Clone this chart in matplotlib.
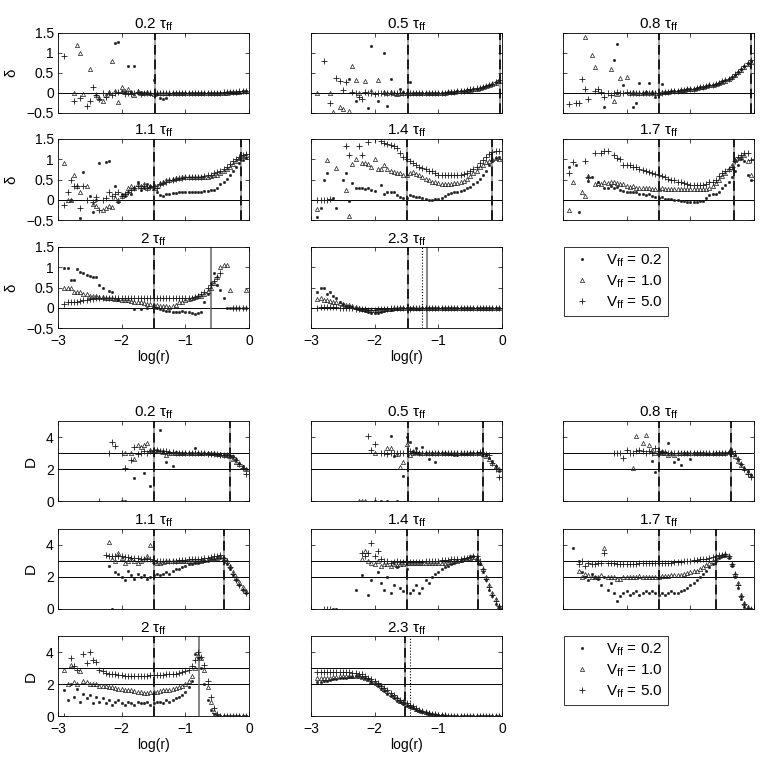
import numpy as np
import matplotlib
matplotlib.use("Agg")
import matplotlib.pyplot as plt
from matplotlib.lines import Line2D

plt.rcParams['font.family'] = ['Liberation Sans', 'DejaVu Sans']
plt.rcParams['mathtext.fontset'] = 'custom'
plt.rcParams['mathtext.rm'] = 'Liberation Sans'
plt.rcParams['mathtext.it'] = 'Liberation Sans:italic'

n = np.nan

# log(r) sample points shared by all series
LOGR = [-2.90, -2.85, -2.80, -2.75, -2.70, -2.65, -2.60, -2.55, -2.50, -2.45,
        -2.40, -2.35, -2.30, -2.25, -2.20, -2.15, -2.10, -2.05, -2.00, -1.95,
        -1.90, -1.85, -1.80, -1.75, -1.70, -1.65, -1.60, -1.55, -1.50, -1.45,
        -1.40, -1.35, -1.30, -1.25, -1.20, -1.15, -1.10, -1.05, -1.00, -0.95,
        -0.90, -0.85, -0.80, -0.75, -0.70, -0.65, -0.60, -0.55, -0.50, -0.45,
        -0.40, -0.35, -0.30, -0.25, -0.20, -0.15, -0.10, -0.05]

TIMES = ['0.2', '0.5', '0.8', '1.1', '1.4', '1.7', '2', '2.3']
VFF = ['0.2', '1.0', '5.0']

# ---- delta, suffix a/b/c = V_ff 0.2 / 1.0 / 5.0 ----
delta_02_a = [n, n, n, n, n, n, n, n, n, n,
              n, n, n, n, n, n, 1.25, 1.28, 0.05, 0.02,
              0.68, 0.03, 0.68, 0.0, 0.02, 0.0, 0.01, -0.03, 0.32, -0.02,
              -0.12, -0.15, -0.12, -0.02, 0.0, -0.01, 0.0, 0.0, 0.0, 0.0,
              0.0, 0.0, 0.0, 0.0, 0.0, 0.0, 0.01, 0.0, 0.01, 0.01,
              0.01, 0.02, 0.02, 0.02, 0.03, 0.03, 0.04, 0.05]
delta_02_b = [n, n, n, 0.0, 1.2, 1.0, -0.02, n, 0.6, n,
              -0.05, -0.12, -0.2, -0.05, 0.03, 0.8, 0.05, -0.22, 0.15, 0.05,
              0.1, 0.02, -0.05, 0.06, 0.0, 0.0, 0.02, 0.0, -0.02, 0.0,
              0.0, 0.01, 0.0, 0.0, 0.0, 0.0, 0.0, 0.0, 0.0, 0.0,
              0.0, 0.0, 0.0, 0.0, 0.0, 0.0, 0.0, 0.01, 0.01, 0.01,
              0.01, 0.01, 0.02, 0.02, 0.03, 0.03, 0.04, 0.04]
delta_02_c = [0.92, n, n, -0.2, n, -0.13, n, -0.33, -0.2, 0.15,
              -0.05, -0.15, 0.0, -0.1, 0.0, -0.05, 0.0, 0.02, n, -0.02,
              0.0, -0.03, 0.0, 0.02, -0.02, 0.0, 0.0, 0.0, 0.0, 0.0,
              0.0, 0.0, 0.0, 0.0, 0.0, 0.0, 0.0, 0.0, 0.0, 0.0,
              0.0, 0.0, 0.0, 0.0, 0.0, 0.0, 0.01, 0.01, 0.01, 0.01,
              0.02, 0.02, 0.02, 0.03, 0.03, 0.04, 0.05, 0.06]

delta_05_a = [n, n, n, n, n, n, n, n, n, n,
              0.35, n, -0.2, n, n, n, -0.38, 1.18, n, -0.2,
              n, 1.0, -0.33, 0.35, n, n, 0.1, 0.02, 0.0, 0.28,
              0.0, 0.0, 0.0, 0.0, 0.0, 0.0, 0.0, 0.0, 0.0, 0.01,
              0.01, 0.02, 0.02, 0.03, 0.04, 0.05, 0.06, 0.07, 0.08, 0.1,
              0.11, 0.13, 0.15, 0.17, 0.2, 0.23, 0.27, 0.32]
delta_05_b = [0.0, n, n, n, 0.0, -0.47, n, -0.35, -0.4, n,
              -0.45, 0.68, 0.33, 0.0, n, 0.3, n, 0.05, n, 0.33,
              n, 0.02, 0.0, 0.02, 0.0, -0.02, 0.0, 0.0, 0.0, 0.0,
              0.0, 0.0, 0.0, 0.0, 0.0, 0.0, 0.0, 0.01, 0.01, 0.01,
              0.01, 0.02, 0.02, 0.03, 0.04, 0.05, 0.06, 0.07, 0.08, 0.1,
              0.11, 0.13, 0.15, 0.17, 0.19, 0.22, 0.26, 0.3]
delta_05_c = [n, n, 0.8, n, -0.25, n, 0.38, 0.3, 0.07, 0.27,
              n, 0.02, 0.0, -0.1, -0.15, 0.02, 0.0, 0.0, -0.02, 0.0,
              0.0, 0.0, 0.0, 0.0, 0.0, 0.0, 0.0, 0.0, 0.0, 0.0,
              0.0, 0.0, 0.0, 0.0, 0.0, 0.0, 0.0, 0.0, 0.01, 0.01,
              0.01, 0.02, 0.02, 0.03, 0.04, 0.05, 0.06, 0.07, 0.09, 0.1,
              0.12, 0.13, 0.15, 0.17, 0.2, 0.23, 0.27, 0.32]

delta_08_a = [n, n, n, n, n, n, n, n, n, n,
              n, -0.35, n, n, 0.83, 1.22, n, 0.2, n, n,
              -0.35, -0.25, 0.25, 0.0, 0.02, 0.25, 0.0, -0.1, 0.0, 0.22,
              0.02, 0.03, 0.04, 0.05, 0.06, 0.07, 0.08, 0.09, 0.1, 0.11,
              0.13, 0.14, 0.16, 0.17, 0.19, 0.21, 0.23, 0.26, 0.29, 0.32,
              0.36, 0.41, 0.46, 0.52, 0.6, 0.67, 0.74, 0.8]
delta_08_b = [n, n, n, n, n, 1.4, n, 0.95, 0.65, n,
              n, n, n, 0.6, -0.2, -0.02, 0.38, n, 0.4, 0.0,
              0.02, 0.0, 0.01, 0.0, 0.02, 0.0, 0.02, 0.0, 0.0, 0.02,
              0.02, 0.03, 0.04, 0.05, 0.06, 0.07, 0.08, 0.09, 0.1, 0.11,
              0.12, 0.14, 0.15, 0.17, 0.19, 0.21, 0.23, 0.25, 0.28, 0.31,
              0.35, 0.4, 0.46, 0.52, 0.58, 0.65, 0.72, 0.78]
delta_08_c = [-0.27, n, -0.25, -0.25, 0.35, 0.1, -0.15, n, 0.05, 0.1,
              0.02, -0.1, 0.0, -0.05, 0.0, 0.02, 0.0, 0.0, 0.02, 0.0,
              0.0, 0.01, 0.0, 0.01, 0.0, 0.01, 0.0, 0.0, 0.0, 0.01,
              0.02, 0.03, 0.04, 0.05, 0.06, 0.07, 0.08, 0.09, 0.1, 0.11,
              0.13, 0.14, 0.16, 0.17, 0.19, 0.21, 0.23, 0.26, 0.29, 0.32,
              0.36, 0.41, 0.47, 0.53, 0.6, 0.68, 0.75, 0.82]

delta_11_a = [n, n, 0.0, n, n, -0.45, 0.69, n, 0.1, -0.3,
              0.0, 0.9, n, 0.93, 0.96, n, 0.34, -0.05, 0.15, 0.1,
              0.2, 0.15, 0.3, 0.45, 0.25, 0.3, 0.4, 0.35, 0.36, 0.2,
              0.12, 0.1, 0.14, 0.15, 0.16, 0.17, 0.18, 0.18, 0.19, 0.19,
              0.19, 0.19, 0.2, 0.2, 0.21, 0.21, 0.23, 0.25, 0.3, 0.38,
              0.45, 0.52, 0.6, 0.7, 0.8, 0.9, 0.98, 1.02]
delta_11_b = [0.9, 0.0, 0.0, 0.6, 0.35, 0.2, n, 0.33, n, -0.1,
              -0.15, n, -0.25, -0.2, -0.15, -0.18, 0.05, 0.0, 0.1, 0.15,
              0.3, 0.35, 0.3, 0.4, 0.35, 0.4, 0.3, 0.35, 0.3, 0.35,
              0.42, 0.45, 0.48, 0.5, 0.52, 0.53, 0.54, 0.55, 0.55, 0.55,
              0.55, 0.55, 0.55, 0.55, 0.56, 0.57, 0.58, 0.6, 0.62, 0.66,
              0.7, 0.76, 0.82, 0.88, 0.95, 1.02, 1.08, 1.1]
delta_11_c = [-0.13, 0.2, 0.5, 0.35, 0.35, -0.2, 0.35, 0.0, n, -0.05,
              0.08, -0.25, 0.0, 0.05, 0.2, 0.1, 0.15, 0.2, 0.1, 0.15,
              0.2, 0.25, 0.3, 0.35, 0.3, 0.35, 0.3, 0.32, 0.33, 0.3,
              0.38, 0.42, 0.45, 0.48, 0.5, 0.52, 0.53, 0.54, 0.55, 0.55,
              0.55, 0.56, 0.56, 0.57, 0.58, 0.6, 0.62, 0.65, 0.68, 0.72,
              0.76, 0.82, 0.88, 0.95, 1.0, 1.05, 1.1, 1.12]

delta_14_a = [-0.42, -0.2, 0.5, 0.65, n, 0.05, -0.2, n, 0.5, 0.65,
              -0.03, 0.42, 0.3, 0.3, 0.28, 0.26, 0.3, 0.25, 0.22, n,
              0.37, 0.15, 0.2, 0.18, 0.2, 0.12, 0.08, 0.05, 0.04, 0.12,
              0.1, 0.08, 0.06, 0.04, 0.02, 0.0, 0.0, 0.01, 0.03, 0.05,
              0.1, 0.13, 0.16, 0.18, 0.2, 0.22, 0.25, 0.28, 0.32, 0.38,
              0.45, 0.52, 0.62, 0.72, 0.85, 0.95, 1.02, 1.05]
delta_14_b = [-0.23, n, n, 0.98, n, n, 0.78, n, n, 0.23,
              -0.4, 0.88, 1.0, n, 0.9, 0.9, 0.88, 0.8, 1.0, 0.75,
              0.75, 0.85, 0.75, 0.7, 0.68, 0.65, 0.65, 0.62, 0.6, 0.65,
              0.68, 0.64, 0.6, 0.56, 0.52, 0.48, 0.45, 0.43, 0.41, 0.4,
              0.4, 0.39, 0.4, 0.41, 0.42, 0.44, 0.47, 0.52, 0.58, 0.65,
              0.72, 0.8, 0.86, 0.92, 0.96, 1.0, 1.02, 1.0]
delta_14_c = [0.0, 0.0, 0.0, 0.0, 0.02, n, n, n, n, 1.33,
              1.1, n, n, 1.33, 1.1, n, 1.42, n, 1.5, n,
              1.45, 1.4, 1.38, 1.34, 1.32, 1.28, 1.15, 1.05, 1.0, 0.95,
              0.9, 0.85, 0.8, 0.78, 0.75, 0.72, 0.7, 0.66, 0.62, 0.61,
              0.6, 0.6, 0.6, 0.6, 0.61, 0.62, 0.63, 0.66, 0.7, 0.76,
              0.82, 0.9, 0.98, 1.05, 1.12, 1.17, 1.2, 1.2]

delta_17_a = [0.82, n, 0.85, -0.3, n, n, 0.47, 0.55, n, 0.45,
              n, 0.3, 0.3, 0.35, 0.3, 0.32, 0.25, 0.22, 0.2, 0.18,
              0.18, 0.2, 0.15, 0.15, 0.12, 0.15, 0.1, 0.08, 0.05, 0.06,
              0.03, 0.02, 0.02, 0.0, 0.0, -0.02, -0.03, -0.05, -0.05, -0.06,
              -0.05, -0.04, -0.03, 0.05, 0.12, 0.13, 0.15, 0.2, 0.28, 0.36,
              0.45, 0.55, 0.7, 0.85, 1.0, 0.95, 0.6, 0.5]
delta_17_b = [-0.25, 0.45, n, n, 0.2, 0.1, 0.58, n, 0.4, 0.42,
              0.4, 0.45, 0.42, 0.45, 0.45, 0.42, 0.4, 0.38, 0.35, 0.32,
              0.33, 0.3, 0.3, 0.3, 0.3, 0.28, 0.27, 0.27, 0.27, 0.28,
              0.27, 0.26, 0.27, 0.26, 0.26, 0.26, 0.26, 0.26, 0.26, 0.26,
              0.26, 0.26, 0.26, 0.27, 0.3, 0.35, 0.42, 0.5, 0.58, 0.66,
              0.75, 0.85, 0.98, 1.02, 1.05, 1.1, 0.95, 0.62]
delta_17_c = [0.66, 0.93, n, n, n, 0.95, 0.56, n, 1.15, n,
              1.15, 1.2, 1.2, n, 1.1, 1.03, 1.0, 0.87, 0.86, 0.85,
              0.82, 0.8, 0.77, 0.74, 0.7, 0.68, 0.65, 0.63, 0.6, 0.58,
              0.55, 0.52, 0.5, 0.48, 0.45, 0.43, 0.41, 0.39, 0.37, 0.36,
              0.36, 0.36, 0.37, 0.4, 0.43, 0.45, 0.5, 0.58, 0.65, 0.7,
              0.76, 0.82, 0.95, 1.05, 1.1, 1.15, 1.15, 0.98]

delta_20_a = [0.98, 0.98, 0.69, 0.69, 0.96, 0.88, 0.85, 0.8, 0.78, 0.75,
              0.75, 0.56, 0.5, n, 0.42, 0.4, n, 0.19, n, n,
              n, n, -0.02, n, -0.02, n, 0.0, n, 0.0, 0.0,
              -0.02, -0.05, -0.07, -0.08, -0.1, -0.1, -0.1, -0.09, -0.1, -0.1,
              -0.12, -0.15, -0.12, -0.1, 0.15, 0.35, 0.6, 0.85, 0.55, 0.45,
              0.25, 0.0, 0.0, 0.0, 0.0, 0.0, 0.0, 0.0]
delta_20_b = [0.48, 0.48, 0.48, 0.4, 0.38, 0.38, 0.33, 0.33, 0.3, 0.3,
              0.28, 0.27, 0.26, 0.25, 0.24, 0.23, 0.22, 0.21, 0.2, 0.2,
              0.18, 0.17, 0.15, 0.14, 0.13, 0.12, 0.1, 0.1, 0.08, 0.07,
              0.05, 0.04, 0.04, 0.03, 0.05, 0.08, 0.13, 0.15, 0.2, 0.22,
              0.25, 0.27, 0.28, 0.3, 0.35, 0.42, 0.5, 0.6, 0.77, 1.0,
              1.05, 1.05, 0.45, n, n, n, n, 0.45]
delta_20_c = [0.1, 0.13, 0.15, 0.15, 0.15, 0.17, 0.2, 0.2, 0.22, 0.22,
              0.23, 0.24, 0.25, 0.25, 0.25, 0.25, 0.25, 0.25, 0.25, 0.25,
              0.25, 0.25, 0.25, 0.25, 0.25, 0.25, 0.25, 0.25, 0.25, 0.25,
              0.25, 0.25, 0.25, 0.25, 0.25, 0.25, 0.25, 0.25, 0.25, 0.24,
              0.23, 0.26, 0.3, 0.35, 0.4, 0.48, 0.55, 0.65, 0.75, 0.85,
              n, n, n, 0.0, 0.0, 0.0, 0.0, 0.0]

delta_23_a = [0.4, 0.5, 0.48, 0.35, 0.4, 0.3, 0.25, 0.15, 0.1, 0.05,
              0.05, 0.02, 0.0, -0.02, -0.05, -0.08, -0.1, -0.12, -0.13, -0.12,
              -0.1, -0.08, -0.06, -0.05, -0.03, -0.02, -0.01, 0.0, 0.0, 0.0,
              0.0, -0.02, -0.02, 0.0, 0.0, 0.0, 0.0, 0.0, 0.0, 0.0,
              0.0, 0.0, 0.0, 0.0, 0.0, 0.0, 0.0, 0.0, 0.0, 0.0,
              0.0, 0.0, 0.0, 0.0, 0.0, 0.0, 0.0, 0.0]
delta_23_b = [0.22, 0.25, 0.2, 0.18, 0.17, 0.15, 0.14, 0.12, 0.1, 0.08,
              0.06, 0.04, 0.02, 0.0, -0.02, -0.04, -0.05, -0.06, -0.06, -0.05,
              -0.05, -0.04, -0.03, -0.02, -0.01, 0.0, 0.0, 0.0, 0.0, 0.0,
              0.0, 0.0, 0.0, 0.0, 0.0, 0.0, 0.0, 0.0, 0.0, 0.0,
              0.0, 0.0, 0.0, 0.0, 0.0, 0.0, 0.0, 0.0, 0.0, 0.0,
              0.0, 0.0, 0.0, 0.0, 0.0, 0.0, 0.0, 0.0]
delta_23_c = [0.0, 0.02, 0.02, 0.02, 0.02, 0.01, 0.01, 0.0, 0.0, 0.0,
              0.0, 0.0, -0.02, -0.02, -0.03, -0.04, -0.05, -0.05, -0.05, -0.04,
              -0.03, -0.02, -0.02, -0.01, -0.01, 0.0, 0.0, 0.0, 0.0, -0.02,
              0.0, 0.0, 0.0, 0.0, 0.0, 0.0, 0.0, 0.0, 0.0, 0.0,
              0.0, 0.0, 0.0, 0.0, 0.0, 0.0, 0.0, 0.0, 0.0, 0.0,
              0.0, 0.0, 0.0, 0.0, 0.0, 0.0, 0.0, 0.0]

# ---- D (fractal dimension) ----
dim_02_a = [n, n, n, n, n, n, n, n, n, n,
            n, n, n, n, n, n, n, n, 0.0, 0.0,
            n, n, 1.45, n, n, 1.75, n, 0.95, n, 3.2,
            4.45, 3.1, 2.45, 3.05, 2.2, 3.05, 3.0, 3.0, 3.0, 3.0,
            3.0, 3.3, 3.0, 2.95, 3.0, 3.0, 2.95, 2.95, 2.95, 2.95,
            2.9, 2.85, 2.8, 2.8, 2.6, 2.4, 2.2, 2.0]
dim_02_b = [n, n, n, n, n, n, n, n, n, n,
            n, n, n, n, n, n, n, n, n, 3.0,
            n, 3.0, 2.6, 3.5, 3.4, 3.5, 3.6, 3.2, 3.2, 3.1,
            3.1, 3.05, 2.9, 3.0, 3.0, 3.0, 3.0, 3.0, 3.0, 3.0,
            3.0, 3.0, 3.0, 3.0, 3.0, 3.0, 3.0, 3.0, 2.95, 2.95,
            2.9, 2.85, 2.8, 2.6, 2.45, 2.3, 2.15, 2.0]
dim_02_c = [n, n, n, n, n, n, n, n, n, n,
            n, 0.0, n, n, 3.0, 3.7, 3.45, n, 3.0, 2.05,
            n, 2.55, 3.4, 2.95, 3.0, 3.1, 3.0, 3.1, 3.2, 3.2,
            3.15, 3.1, 3.1, 3.05, 3.05, 3.0, 3.0, 3.0, 3.0, 3.0,
            3.0, 3.0, 3.0, 3.0, 3.0, 2.95, 2.95, 2.95, 2.95, 2.9,
            2.9, 2.85, 2.85, 2.75, 2.55, 2.3, 2.05, 1.7]

dim_05_a = [n, n, n, n, n, n, n, n, n, n,
            n, n, n, n, n, n, n, n, 0.0, n,
            0.0, n, 0.0, 4.05, 2.8, 0.0, n, 1.55, 4.0, 3.7,
            3.1, 3.3, 3.0, 3.4, 3.0, 2.6, 3.0, 2.45, 3.0, 3.0,
            3.0, 2.95, 2.95, 2.9, 2.9, 2.95, 2.95, 2.95, 3.0, 3.0,
            3.0, 3.0, 3.0, 2.9, 2.7, 2.5, 2.2, 1.9]
dim_05_b = [n, n, n, n, n, n, n, n, n, n,
            n, n, n, 0.0, 0.0, 0.0, n, n, 3.0, n,
            n, n, 3.3, 3.3, n, 2.95, 2.15, 2.45, 3.55, 2.9,
            3.0, 3.05, 3.0, 3.0, 3.0, 3.0, 3.0, 3.0, 3.0, 3.0,
            3.0, 3.0, 3.0, 3.0, 3.0, 3.0, 3.0, 3.0, 3.0, 3.0,
            3.0, 3.0, 2.95, 2.8, 2.65, 2.4, 2.2, 2.0]
dim_05_c = [n, n, n, n, n, n, n, n, n, n,
            n, n, n, n, n, n, 4.08, 3.2, 3.55, n,
            3.0, 3.0, 2.95, 3.0, 3.0, 3.0, 3.0, 3.0, 3.0, 3.1,
            3.05, 3.05, 3.0, 3.0, 3.0, 3.0, 3.0, 3.0, 3.0, 3.0,
            3.0, 3.0, 3.0, 3.0, 3.0, 3.0, 3.0, 3.0, 3.0, 3.0,
            3.0, 3.05, 3.0, 2.95, 2.85, 2.4, 2.0, 1.5]

dim_08_a = [n, n, n, n, n, n, n, n, n, n,
            n, n, n, n, n, n, n, n, n, n,
            n, n, n, n, n, n, 2.5, 1.8, n, 3.1,
            3.05, 3.6, 3.0, 2.45, 2.6, 2.25, 3.0, 3.0, 2.6, 3.0,
            3.0, 3.0, 3.0, 2.95, 2.95, 2.95, 3.0, 3.0, 3.0, 3.0,
            3.05, 3.0, 2.85, 2.6, 2.3, 2.0, 1.85, 1.6]
dim_08_b = [n, n, n, n, n, n, n, n, n, n,
            n, n, n, n, n, n, n, n, n, n,
            2.05, 4.06, n, 3.6, 4.15, 3.5, 3.2, 3.0, 3.05, 3.0,
            3.0, 2.9, 3.0, 2.85, 3.0, 3.0, 3.0, 3.0, 3.0, 3.0,
            3.0, 3.0, 3.0, 3.0, 3.0, 3.0, 3.0, 3.0, 3.0, 3.0,
            3.05, 2.95, 2.8, 2.5, 2.25, 2.05, 1.8, 1.6]
dim_08_c = [n, n, n, n, n, n, n, n, n, n,
            n, n, n, n, 3.0, 3.0, 3.0, 2.7, 3.2, 3.0,
            3.0, 3.1, 3.2, 3.1, 3.0, 3.1, 3.0, 3.3, 3.1, 3.05,
            3.05, 3.0, 3.0, 3.0, 3.0, 3.0, 3.0, 3.0, 3.0, 3.0,
            3.0, 3.0, 3.0, 3.0, 3.0, 3.0, 3.0, 3.0, 3.0, 3.0,
            3.05, 3.15, 3.0, 2.6, 2.3, 2.0, 1.7, 1.5]

dim_11_a = [n, n, n, n, n, n, n, n, n, n,
            n, n, n, n, 2.7, 0.0, 2.3, 2.2, 2.0, 1.8,
            2.4, 2.1, 1.9, 2.2, 2.0, 2.1, 1.9, 2.0, 2.1, 2.2,
            2.1, 2.2, 2.3, 2.2, 2.4, 2.5, 2.5, 2.6, 2.7, 2.8,
            2.8, 2.9, 2.9, 3.0, 3.0, 3.0, 3.1, 3.1, 3.2, 3.2,
            3.0, 2.8, 2.5, 2.1, 1.8, 1.5, 1.2, 1.0]
dim_11_b = [n, n, n, n, n, n, n, n, n, n,
            n, n, n, n, 4.2, 3.1, 3.0, 3.5, 3.2, 2.9,
            3.0, 3.1, 3.0, 2.9, 3.0, 3.1, 3.3, 4.0, 3.0, 2.9,
            2.9, 2.95, 3.0, 3.0, 3.0, 3.0, 3.0, 3.0, 3.0, 3.0,
            3.0, 3.0, 3.0, 3.0, 3.05, 3.1, 3.1, 3.15, 3.2, 3.3,
            3.2, 3.0, 2.7, 2.3, 2.0, 1.7, 1.4, 1.1]
dim_11_c = [n, n, n, n, n, n, n, n, n, n,
            n, n, n, 3.4, 3.3, 3.3, 3.3, 3.3, 3.3, 3.25,
            3.25, 3.2, 3.2, 3.2, 3.15, 3.1, 3.1, 3.1, 3.05, 3.0,
            3.0, 3.0, 3.0, 3.0, 3.0, 3.0, 3.05, 3.05, 3.05, 3.1,
            3.1, 3.1, 3.15, 3.15, 3.2, 3.2, 3.25, 3.3, 3.3, 3.35,
            3.2, 3.0, 2.6, 2.2, 1.8, 1.5, 1.2, 1.0]

dim_14_a = [n, n, n, n, n, 0.0, 0.0, n, n, n,
            n, n, 1.2, n, 2.1, n, 0.9, 1.8, n, 2.3,
            1.6, 1.2, 2.0, 1.0, 1.5, 2.6, 1.3, 1.1, 2.5, 1.0,
            1.2, 1.5, 1.0, 1.3, 1.8, 1.6, 2.0, 2.2, 2.3, 2.5,
            2.6, 2.7, 2.8, 2.9, 3.0, 3.0, 3.1, 3.2, 3.3, 3.3,
            3.1, 2.8, 2.3, 1.8, 1.2, 0.8, 0.3, 0.1]
dim_14_b = [n, n, n, n, n, n, n, n, n, n,
            n, n, n, n, 3.1, 3.6, 3.0, 2.9, 2.8, 3.0,
            2.7, 2.8, 2.8, 2.7, 2.8, 2.75, 2.8, 2.8, 2.85, 2.85,
            2.85, 2.85, 2.85, 2.9, 2.9, 2.9, 2.9, 2.9, 2.9, 2.9,
            2.9, 2.95, 2.95, 3.0, 3.0, 3.05, 3.1, 3.15, 3.2, 3.25,
            3.2, 2.9, 2.5, 2.0, 1.5, 1.0, 0.6, 0.2]
dim_14_c = [n, n, 0.0, 0.0, 0.0, n, n, n, n, n,
            n, n, n, n, 3.5, 3.3, 3.5, 4.1, 3.3, 3.6,
            3.1, 3.0, 3.0, 2.9, 2.95, 3.0, 2.95, 2.95, 2.95, 2.95,
            2.95, 2.95, 2.95, 2.95, 3.0, 3.0, 3.0, 3.0, 3.0, 3.05,
            3.05, 3.05, 3.1, 3.1, 3.1, 3.15, 3.2, 3.2, 3.25, 3.3,
            3.3, 3.0, 2.5, 1.9, 1.4, 0.9, 0.5, 0.2]

dim_17_a = [n, 3.8, n, 3.0, 2.3, 2.0, 1.8, 2.2, 2.0, 1.9,
            1.5, 2.0, 1.2, 1.6, 1.0, 0.5, 0.8, 1.0, 1.1, 0.9,
            1.0, 1.1, 0.9, 1.0, 1.1, 1.0, 1.1, 1.0, 0.9, 1.0,
            0.9, 1.0, 1.1, 1.0, 1.0, 1.1, 1.2, 1.3, 1.5, 1.6,
            1.8, 2.0, 2.2, 2.4, 2.6, 2.8, 3.0, 3.2, 3.3, 3.3,
            3.2, 2.7, 2.0, 1.3, 0.6, 0.1, 0.0, 0.0]
dim_17_b = [n, n, n, 2.4, 2.0, 2.2, 2.1, 2.0, 2.0, 2.0,
            2.1, 3.8, 2.0, 2.0, 2.0, 1.9, 1.9, 2.0, 2.0, 2.0,
            2.0, 2.0, 2.05, 2.0, 2.0, 2.0, 2.0, 2.0, 2.0, 2.05,
            2.05, 2.05, 2.1, 2.1, 2.1, 2.15, 2.2, 2.25, 2.3, 2.35,
            2.4, 2.5, 2.6, 2.75, 2.9, 3.0, 3.15, 3.3, 3.4, 3.45,
            3.3, 2.8, 2.2, 1.6, 0.9, 0.4, 0.1, 0.0]
dim_17_c = [n, n, n, 2.8, 3.0, 2.7, 2.9, 2.8, 2.8, 2.85,
            2.9, 3.5, 2.9, 2.85, 2.85, 2.8, 2.8, 2.8, 2.8, 2.8,
            2.8, 2.8, 2.85, 2.85, 2.85, 2.85, 2.85, 2.85, 2.9, 2.9,
            2.9, 2.9, 2.9, 2.95, 2.95, 2.95, 3.0, 3.0, 3.0, 3.05,
            3.05, 3.1, 3.1, 3.15, 3.2, 3.25, 3.3, 3.35, 3.4, 3.45,
            3.3, 2.8, 2.2, 1.5, 0.8, 0.3, 0.05, 0.0]

dim_20_a = [1.6, 1.0, 2.0, 1.2, 1.7, 0.9, 1.4, 1.1, 1.3, 0.8,
            1.2, 0.9, 1.1, 0.8, 1.0, 0.7, 0.9, 1.0, 0.8, 0.7,
            0.9, 0.8, 0.7, 0.9, 0.8, 0.8, 0.9, 0.7, 0.8, 0.9,
            0.9, 0.8, 1.0, 0.9, 1.0, 1.1, 1.2, 1.3, 1.5, 1.8,
            2.2, 3.9, 3.6, 3.0, 2.0, 1.0, 0.4, 0.1, 0.0, 0.0,
            0.0, 0.0, 0.0, 0.0, 0.0, 0.0, 0.0, 0.0]
dim_20_b = [2.9, 2.0, 3.2, 2.1, 2.0, 2.8, 2.2, 2.1, 2.0, 2.0,
            2.0, 1.9, 1.9, 1.85, 1.8, 1.8, 1.75, 1.7, 1.7, 1.65,
            1.6, 1.6, 1.55, 1.5, 1.5, 1.45, 1.45, 1.5, 1.5, 1.5,
            1.55, 1.6, 1.6, 1.65, 1.7, 1.75, 1.8, 1.9, 2.0, 2.2,
            2.5, 3.0, 3.8, 3.6, 2.9, 1.8, 0.9, 0.3, 0.05, 0.0,
            0.0, 0.0, 0.0, 0.0, 0.0, 0.0, 0.0, 0.0]
dim_20_c = [0.0, n, 3.6, 3.1, 2.9, n, 3.9, 3.3, 4.0, 3.5,
            3.4, 2.9, 2.8, 2.7, 2.65, 2.6, 2.6, 2.55, 2.55, 2.5,
            2.5, 2.5, 2.5, 2.5, 2.5, 2.5, 2.5, 2.55, 2.55, 2.55,
            2.55, 2.55, 2.6, 2.6, 2.6, 2.65, 2.7, 2.75, 2.8, 2.9,
            3.1, 3.5, 4.0, 3.7, 3.2, 2.2, 1.2, 0.5, 0.1, 0.0,
            0.0, 0.0, 0.0, 0.0, 0.0, 0.0, 0.0, 0.0]

dim_23_a = [2.1, 2.15, 2.2, 2.2, 2.25, 2.3, 2.3, 2.35, 2.4, 2.4,
            2.45, 2.45, 2.5, 2.5, 2.45, 2.4, 2.3, 2.15, 2.0, 1.85,
            1.7, 1.55, 1.4, 1.25, 1.1, 0.95, 0.85, 0.75, 0.65, 0.55,
            0.48, 0.4, 0.33, 0.27, 0.2, 0.15, 0.12, 0.08, 0.06, 0.04,
            0.03, 0.02, 0.01, 0.0, 0.0, 0.0, 0.0, 0.0, 0.0, 0.0,
            0.0, 0.0, 0.0, 0.0, 0.0, 0.0, 0.0, 0.0]
dim_23_b = [2.35, 2.35, 2.4, 2.4, 2.4, 2.45, 2.45, 2.5, 2.5, 2.5,
            2.5, 2.5, 2.5, 2.5, 2.45, 2.4, 2.3, 2.2, 2.1, 2.0,
            1.85, 1.7, 1.55, 1.4, 1.25, 1.1, 0.95, 0.85, 0.75, 0.65,
            0.55, 0.45, 0.38, 0.3, 0.24, 0.18, 0.14, 0.1, 0.07, 0.05,
            0.04, 0.03, 0.02, 0.01, 0.0, 0.0, 0.0, 0.0, 0.0, 0.0,
            0.0, 0.0, 0.0, 0.0, 0.0, 0.0, 0.0, 0.0]
dim_23_c = [2.75, 2.75, 2.75, 2.75, 2.75, 2.75, 2.75, 2.75, 2.75, 2.75,
            2.75, 2.7, 2.7, 2.65, 2.6, 2.5, 2.4, 2.3, 2.2, 2.05,
            1.9, 1.75, 1.6, 1.45, 1.3, 1.15, 1.0, 0.9, 0.8, 0.7,
            0.6, 0.5, 0.4, 0.3, 0.25, 0.2, 0.15, 0.1, 0.07, 0.05,
            0.04, 0.03, 0.02, 0.01, 0.01, 0.0, 0.0, 0.0, 0.0, 0.0,
            0.0, 0.0, 0.0, 0.0, 0.0, 0.0, 0.0, 0.0]

DELTA = [(delta_02_a, delta_02_b, delta_02_c), (delta_05_a, delta_05_b, delta_05_c),
         (delta_08_a, delta_08_b, delta_08_c), (delta_11_a, delta_11_b, delta_11_c),
         (delta_14_a, delta_14_b, delta_14_c), (delta_17_a, delta_17_b, delta_17_c),
         (delta_20_a, delta_20_b, delta_20_c), (delta_23_a, delta_23_b, delta_23_c)]
DIM = [(dim_02_a, dim_02_b, dim_02_c), (dim_05_a, dim_05_b, dim_05_c),
       (dim_08_a, dim_08_b, dim_08_c), (dim_11_a, dim_11_b, dim_11_c),
       (dim_14_a, dim_14_b, dim_14_c), (dim_17_a, dim_17_b, dim_17_c),
       (dim_20_a, dim_20_b, dim_20_c), (dim_23_a, dim_23_b, dim_23_c)]

# vertical marker lines in log(r)
DELTA_VLINES = [[(-1.48, 'dash')],
                [(-1.48, 'dash'), (-0.03, 'dash')],
                [(-1.5, 'dash'), (-0.05, 'dash')],
                [(-1.5, 'dash'), (-0.12, 'dash')],
                [(-1.5, 'dash'), (-0.16, 'dash')],
                [(-1.5, 'dash'), (-0.31, 'dash')],
                [(-1.5, 'dash'), (-0.59, 'solid')],
                [(-1.48, 'dash'), (-1.25, 'dot'), (-1.18, 'solid')]]
DIM_VLINES = [[(-1.5, 'dash'), (-0.3, 'dash')],
              [(-1.48, 'dash'), (-0.3, 'dash')],
              [(-1.5, 'dash'), (-0.36, 'dash')],
              [(-1.5, 'dash'), (-0.4, 'dash')],
              [(-1.5, 'dash'), (-0.37, 'dash')],
              [(-1.5, 'dash'), (-0.6, 'dash')],
              [(-1.5, 'dash'), (-0.78, 'solid')],
              [(-1.52, 'dash'), (-1.45, 'dot')]]

STYLES = [dict(marker='o', ms=1.8, mfc='0.1', mec='0.1', mew=0.3),
          dict(marker='^', ms=3.0, mfc='none', mec='0.1', mew=0.5),
          dict(marker='+', ms=4.2, mec='0.1', mew=0.6)]

W, H = 763, 758
COL_X = [58, 311, 563]
AX_W = 191
DELTA_ROWS = [(33, 113), (139, 220), (247, 328)]
DIM_ROWS = [(421, 501), (529, 609), (636, 716)]
FS = 10

fig = plt.figure(figsize=(W / 100, H / 100), dpi=100)


def make_ax(col, top, bottom):
    return fig.add_axes([COL_X[col] / W, 1 - bottom / H, AX_W / W, (bottom - top) / H])


def draw_vlines(ax, lines):
    for x, kind in lines:
        if kind == 'dash':
            ax.axvline(x, color='0.55', lw=1.1, zorder=1)
            ax.axvline(x, color='0.1', lw=1.4, dashes=(5, 2.5), zorder=1)
        elif kind == 'dot':
            ax.axvline(x, color='k', lw=0.8, ls=':', zorder=1)
        else:
            ax.axvline(x, color='0.4', lw=1.1, zorder=1)


def draw_group(data, vlines, rows, hlines, ylim, yticks, ylabels, ylab):
    for i, t in enumerate(TIMES):
        r, c = divmod(i, 3)
        ax = make_ax(c, *rows[r])
        for h in hlines:
            ax.axhline(h, color='k', lw=0.7, zorder=1)
        draw_vlines(ax, vlines[i])
        for series, st in zip(data[i], STYLES):
            y = np.array(series, dtype=float)
            x = np.array(LOGR[:len(y)])
            ax.plot(x, y[:len(x)], ls='none', zorder=3, **st)
        ax.set_xlim(-3, 0)
        ax.set_ylim(*ylim)
        ax.set_xticks([-3, -2, -1, 0])
        ax.set_yticks(yticks)
        ax.tick_params(direction='in', top=True, right=True, length=3, width=0.5,
                       labelsize=FS, pad=3)
        ax.tick_params(axis='x', pad=4)
        for sp in ax.spines.values():
            sp.set_linewidth(0.6)
        if c == 0:
            ax.set_yticklabels(ylabels)
            ax.set_ylabel(ylab, fontsize=FS + 1, labelpad=6)
        else:
            ax.tick_params(labelleft=False)
        if r == 2:
            ax.set_xticklabels(['\u22123', '\u22122', '\u22121', '0'])
            ax.set_xlabel('log(r)', fontsize=FS, labelpad=2)
        else:
            ax.tick_params(labelbottom=False)
        ax.set_title(t + ' \u03c4$_{\\rm ff}$', fontsize=FS + 1, pad=2.5)


draw_group(DELTA, DELTA_VLINES, DELTA_ROWS, [0.0], (-0.5, 1.5),
           [-0.5, 0, 0.5, 1, 1.5], ['\u22120.5', '0', '0.5', '1', '1.5'], '\u03b4')
draw_group(DIM, DIM_VLINES, DIM_ROWS, [2.0, 3.0], (0, 5),
           [0, 2, 4], ['0', '2', '4'], 'D')

handles = [Line2D([], [], ls='none', **st) for st in STYLES]
labels = ['V$_{\\rm ff}$ = ' + v for v in VFF]
for top in (DELTA_ROWS[2][0], DIM_ROWS[2][0]):
    leg = fig.legend(handles, labels, loc='upper left',
                     bbox_to_anchor=(564 / W, 1 - top / H),
                     bbox_transform=fig.transFigure, frameon=True, fancybox=False,
                     edgecolor='k', fontsize=FS + 1, handlelength=1.6,
                     handletextpad=0.8, borderpad=0.35, labelspacing=0.3,
                     borderaxespad=0)
    leg.get_frame().set_linewidth(0.7)

fig.savefig('out.png', dpi=100)
